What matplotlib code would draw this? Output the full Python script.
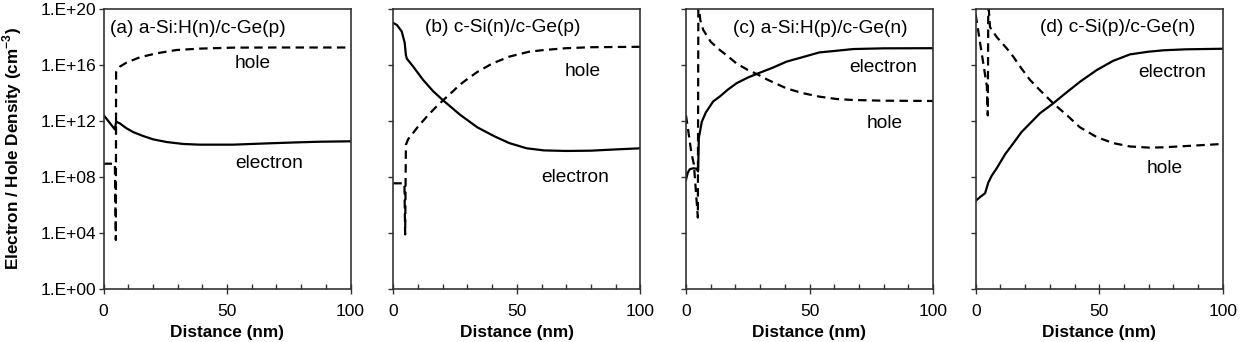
import numpy as np
import matplotlib
matplotlib.use("Agg")
import matplotlib.pyplot as plt
from matplotlib.ticker import FixedLocator, MultipleLocator, FuncFormatter

plt.rcParams['font.family'] = ['Liberation Sans', 'DejaVu Sans']
plt.rcParams['mathtext.fontset'] = 'custom'
plt.rcParams['mathtext.rm'] = 'Liberation Sans'
plt.rcParams['mathtext.bf'] = 'Liberation Sans:bold'

# data: x in nm, y as log10(density)
a_xe = [0, 4.6, 5.1, 6.6, 9.3, 12, 16, 20.1, 25.5, 32.2, 39, 52.5, 66, 79.5, 87.6, 100]
a_e = [12.43, 11.4, 11.95, 11.83, 11.48, 11.21, 10.93, 10.69, 10.5, 10.36, 10.31, 10.31, 10.4, 10.48, 10.52, 10.55]
a_xh = [0, 4.6, 5.0, 5.1, 6.6, 9.3, 14.7, 21.4, 29.5, 39, 52.5, 70, 100]
a_h = [8.95, 8.95, 3.5, 15.5, 15.88, 16.17, 16.55, 16.83, 17.07, 17.17, 17.24, 17.25, 17.25]

b_xe = [0, 1.5, 3.4, 4.6, 5.1, 5.5, 8, 12, 16, 20, 27, 34, 41, 47, 54, 61, 70, 80, 90, 100]
b_e = [19.0, 18.85, 18.4, 17.6, 16.7, 16.45, 15.9, 14.95, 14.15, 13.5, 12.45, 11.55, 10.9, 10.42, 10.05, 9.9, 9.86, 9.88, 9.97, 10.05]
b_xh = [0, 4.5, 4.8, 5.1, 6, 7.4, 10, 13.5, 17, 20.3, 24, 27, 30, 34, 40, 47, 55, 61, 70, 80, 100]
b_h = [7.55, 7.55, 3.9, 10.3, 10.7, 11.0, 11.6, 12.3, 12.95, 13.5, 14.1, 14.6, 15.0, 15.5, 16.1, 16.6, 16.95, 17.07, 17.2, 17.27, 17.3]

c_xe = [0, 0.7, 1.5, 2.8, 4.2, 4.9, 5.2, 6.4, 8, 11, 13.7, 17, 20.5, 25, 28.6, 35, 40.7, 47, 54, 60, 67.7, 80, 100]
c_e = [7.8, 8.3, 8.55, 8.62, 8.6, 8.4, 10.8, 11.95, 12.6, 13.4, 13.75, 14.25, 14.7, 15.1, 15.36, 15.8, 16.24, 16.55, 16.9, 17.0, 17.14, 17.19, 17.2]
c_xh = [0, 1, 2.2, 3.2, 4.8, 5.0, 5.8, 7, 10, 13.7, 17, 20.5, 25, 28.6, 33, 40.7, 47, 54, 61, 67.7, 80, 100]
c_h = [12.4, 11.2, 9.7, 8.9, 5.1, 20.5, 19.2, 18.5, 17.66, 17.07, 16.62, 16.1, 15.65, 15.36, 14.95, 14.33, 14.0, 13.74, 13.57, 13.5, 13.45, 13.43]

d_xe = [0, 2, 3.8, 5.1, 6.5, 8.5, 12, 15.2, 18.5, 22, 26, 31.4, 35.5, 42.2, 49, 55.7, 62.5, 70, 76, 85, 100]
d_e = [6.3, 6.6, 6.84, 7.6, 8.1, 8.62, 9.65, 10.4, 11.2, 11.83, 12.55, 13.26, 13.86, 14.8, 15.64, 16.3, 16.76, 16.95, 17.05, 17.12, 17.16]
d_xh = [0, 4.5, 4.9, 5.1, 5.8, 8.5, 12.5, 15.2, 18.5, 22, 26, 31.4, 37, 42.2, 49, 55.7, 62.5, 70, 76, 85, 100]
d_h = [19.6, 14.5, 12.4, 20.5, 18.7, 18.0, 17.2, 16.6, 15.76, 14.93, 14.2, 13.26, 12.4, 11.55, 10.85, 10.42, 10.18, 10.1, 10.12, 10.21, 10.36]

titles = ["(a) a-Si:H(n)/c-Ge(p)", "(b) c-Si(n)/c-Ge(p)",
          "(c) a-Si:H(p)/c-Ge(n)", "(d) c-Si(p)/c-Ge(n)"]
ytick_vals = [0, 4, 8, 12, 16, 20]

panels = [
    (a_xe, a_e, a_xh, a_h, (2.6, 18.64), (60.5, 16.14), (67, 9.0)),
    (b_xe, b_e, b_xh, b_h, (12.8, 18.71), (76.8, 15.5), (73.6, 8.0)),
    (c_xe, c_e, c_xh, c_h, (19, 18.64), (80.6, 11.79), (79.8, 15.79)),
    (d_xe, d_e, d_xh, d_h, (26, 18.71), (76.6, 8.64), (79.5, 15.43)),
]
lefts = [103.5, 393.3, 686, 975.7]

fig = plt.figure(figsize=(12.52, 3.42), dpi=100)
W, H = 1252, 342

for i, (xe, ye, xh, yh, tpos, hpos, epos) in enumerate(panels):
    ax = fig.add_axes([lefts[i] / W, (H - 289) / H, 247 / W, 280 / H])
    ax.plot(xe, 10.0 ** np.array(ye), color='black', lw=1.6)
    ax.plot(xh, 10.0 ** np.array(yh), color='black', lw=1.6, ls=(0, (3.8, 2.4)))
    ax.set_yscale('log')
    ax.set_xlim(0, 100)
    ax.set_ylim(1, 1e20)
    ax.yaxis.set_major_locator(FixedLocator([10.0 ** v for v in ytick_vals]))
    ax.yaxis.set_minor_locator(FixedLocator([]))
    ax.xaxis.set_major_locator(FixedLocator([0, 50, 100]))
    ax.xaxis.set_minor_locator(MultipleLocator(10))
    ax.tick_params(axis='y', which='major', direction='out', length=3.8, width=1,
                   pad=1.3, labelsize=12.5, color='#333333')
    ax.tick_params(axis='x', which='major', direction='inout', length=7, width=1,
                   pad=7.5, labelsize=12.5, color='#333333')
    ax.tick_params(axis='x', which='minor', direction='in', length=3.5, width=1,
                   color='#333333')
    if i == 0:
        ax.yaxis.set_major_formatter(FuncFormatter(lambda v, p: "1.E+%02d" % round(np.log10(v))))
        ax.set_ylabel(r"Electron / Hole Density (cm$^{\mathbf{-3}}$)",
                      fontsize=12.3, fontweight='bold')
        ax.yaxis.set_label_coords(-0.322, 0.5)
    else:
        ax.set_yticklabels([])
    ax.set_xlabel("Distance (nm)", fontsize=12.4, fontweight='bold', va='top')
    ax.xaxis.set_label_coords(0.5, -0.127)
    for s in ax.spines.values():
        s.set_color('#333333')
        s.set_linewidth(1.2)
    ax.text(tpos[0], 10 ** tpos[1], titles[i], fontsize=13.8, va='center', ha='left')
    ax.text(hpos[0], 10 ** hpos[1], "hole", fontsize=13.8, va='center', ha='center')
    ax.text(epos[0], 10 ** epos[1], "electron", fontsize=13.8, va='center', ha='center')

fig.savefig("out.png", dpi=100)
